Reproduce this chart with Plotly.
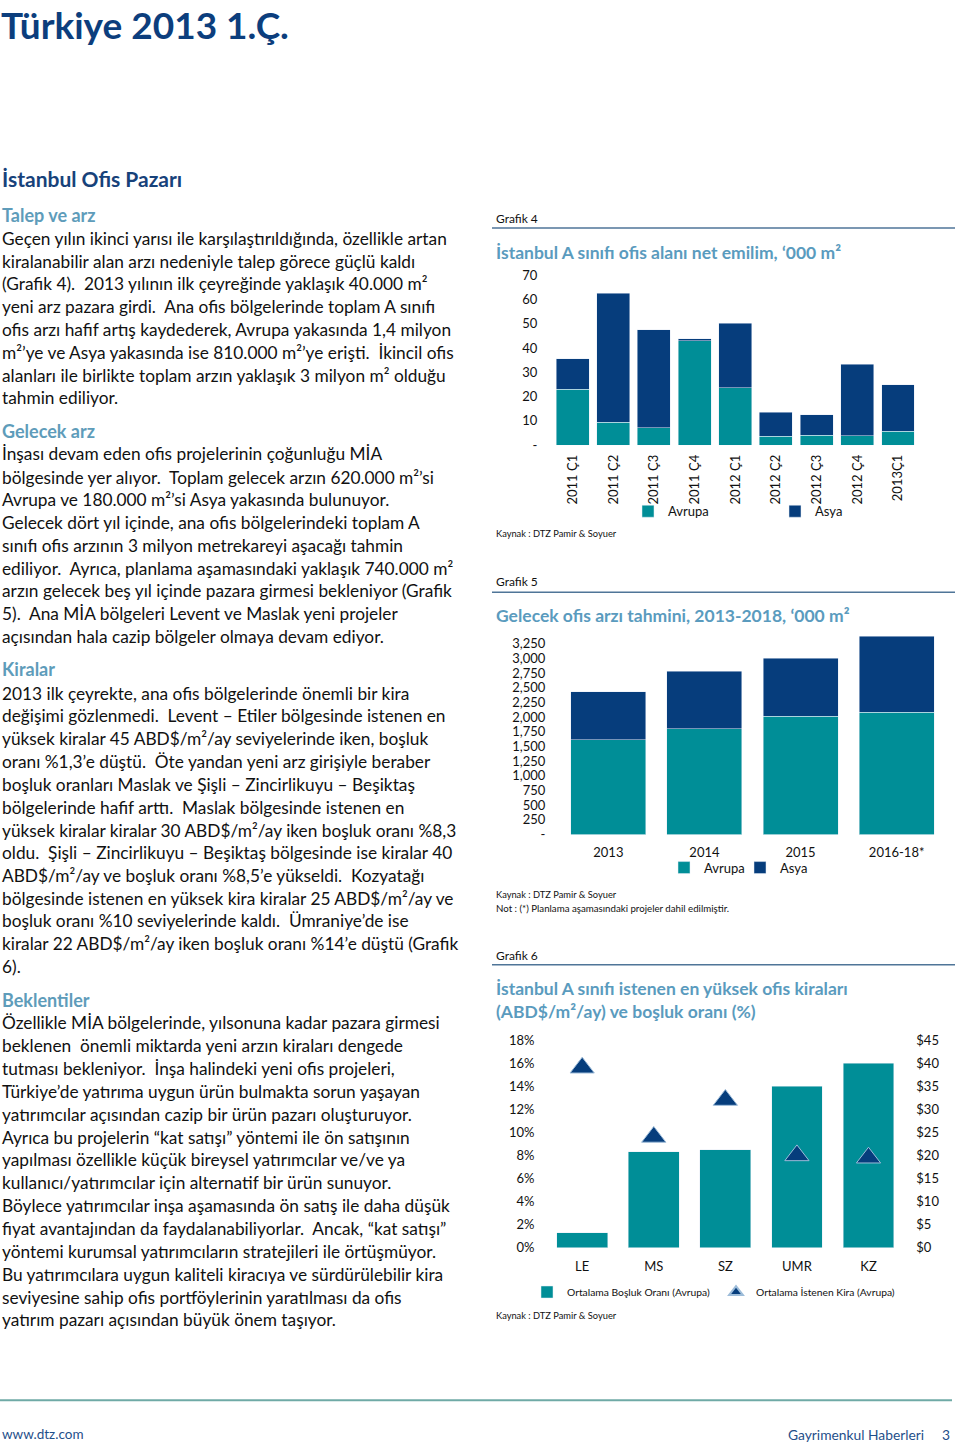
import plotly.graph_objects as go

W, H = 960, 1447
# vertical calibration of the rendered page (measured from earlier renders)
V_OFF, V_SCALE = 8.2, 0.988


def X(px):
    return px / W


def Y(py):
    return 1 - ((py - V_OFF) / V_SCALE) / H


FONT = "Lato"
TEAL = "#008E97"
NAVY = "#063D7C"
TITLE_BLUE = "#5A9BBE"

# ---------------- data ----------------
g4_cats = ["2011 Ç1", "2011 Ç2", "2011 Ç3", "2011 Ç4", "2012 Ç1", "2012 Ç2", "2012 Ç3", "2012 Ç4", "2013Ç1"]
g4_avrupa = [23.0, 9.5, 7.1, 43.0, 23.7, 3.6, 4.1, 3.8, 5.8]
g4_asya = [12.6, 53.1, 40.3, 0.8, 26.4, 10.0, 8.5, 29.6, 19.1]
g4_tickvals = [0, 10, 20, 30, 40, 50, 60, 70]
g4_ticktext = ["-", "10", "20", "30", "40", "50", "60", "70"]

g5_cats = ["2013", "2014", "2015", "2016-18*"]
g5_avrupa = [1615, 1805, 2015, 2085]
g5_asya = [815, 980, 985, 1295]
g5_tickvals = [0, 250, 500, 750, 1000, 1250, 1500, 1750, 2000, 2250, 2500, 2750, 3000, 3250]
g5_ticktext = ["-", "250", "500", "750", "1,000", "1,250", "1,500", "1,750", "2,000",
               "2,250", "2,500", "2,750", "3,000", "3,250"]

g6_cats = ["LE", "MS", "SZ", "UMR", "KZ"]
g6_bosluk = [1.3, 8.3, 8.5, 14.0, 16.0]
g6_kira = [39.0, 24.0, 32.0, 20.0, 19.5]
g6_left_vals = [0, 2, 4, 6, 8, 10, 12, 14, 16, 18]
g6_left_text = ["0%", "2%", "4%", "6%", "8%", "10%", "12%", "14%", "16%", "18%"]
g6_right_vals = [0, 5, 10, 15, 20, 25, 30, 35, 40, 45]
g6_right_text = ["$0", "$5", "$10", "$15", "$20", "$25", "$30", "$35", "$40", "$45"]

# ---------------- text ----------------
body_lines = [
    (238, "Geçen yılın ikinci yarısı ile karşılaştırıldığında, özellikle artan"),
    (261, "kiralanabilir alan arzı nedeniyle talep görece güçlü kaldı"),
    (283, "(Grafik 4).  2013 yılının ilk çeyreğinde yaklaşık 40.000 m²"),
    (306, "yeni arz pazara girdi.  Ana ofis bölgelerinde toplam A sınıfı"),
    (329, "ofis arzı hafif artış kaydederek, Avrupa yakasında 1,4 milyon"),
    (352, "m²’ye ve Asya yakasında ise 810.000 m²’ye erişti.  İkincil ofis"),
    (375, "alanları ile birlikte toplam arzın yaklaşık 3 milyon m² olduğu"),
    (397, "tahmin ediliyor."),
    (453, "İnşası devam eden ofis projelerinin çoğunluğu MİA"),
    (477, "bölgesinde yer alıyor.  Toplam gelecek arzın 620.000 m²’si"),
    (499, "Avrupa ve 180.000 m²’si Asya yakasında bulunuyor."),
    (522, "Gelecek dört yıl içinde, ana ofis bölgelerindeki toplam A"),
    (545, "sınıfı ofis arzının 3 milyon metrekareyi aşacağı tahmin"),
    (568, "ediliyor.  Ayrıca, planlama aşamasındaki yaklaşık 740.000 m²"),
    (590, "arzın gelecek beş yıl içinde pazara girmesi bekleniyor (Grafik"),
    (613, "5).  Ana MİA bölgeleri Levent ve Maslak yeni projeler"),
    (636, "açısından hala cazip bölgeler olmaya devam ediyor."),
    (693, "2013 ilk çeyrekte, ana ofis bölgelerinde önemli bir kira"),
    (715, "değişimi gözlenmedi.  Levent – Etiler bölgesinde istenen en"),
    (738, "yüksek kiralar 45 ABD$/m²/ay seviyelerinde iken, boşluk"),
    (761, "oranı %1,3’e düştü.  Öte yandan yeni arz girişiyle beraber"),
    (784, "boşluk oranları Maslak ve Şişli – Zincirlikuyu – Beşiktaş"),
    (807, "bölgelerinde hafif arttı.  Maslak bölgesinde istenen en"),
    (830, "yüksek kiralar kiralar 30 ABD$/m²/ay iken boşluk oranı %8,3"),
    (852, "oldu.  Şişli – Zincirlikuyu – Beşiktaş bölgesinde ise kiralar 40"),
    (875, "ABD$/m²/ay ve boşluk oranı %8,5’e yükseldi.  Kozyatağı"),
    (898, "bölgesinde istenen en yüksek kira kiralar 25 ABD$/m²/ay ve"),
    (920, "boşluk oranı %10 seviyelerinde kaldı.  Ümraniye’de ise"),
    (943, "kiralar 22 ABD$/m²/ay iken boşluk oranı %14’e düştü (Grafik"),
    (966, "6)."),
    (1022, "Özellikle MİA bölgelerinde, yılsonuna kadar pazara girmesi"),
    (1045, "beklenen  önemli miktarda yeni arzın kiraları dengede"),
    (1068, "tutması bekleniyor.  İnşa halindeki yeni ofis projeleri,"),
    (1091, "Türkiye’de yatırıma uygun ürün bulmakta sorun yaşayan"),
    (1114, "yatırımcılar açısından cazip bir ürün pazarı oluşturuyor."),
    (1137, "Ayrıca bu projelerin “kat satışı” yöntemi ile ön satışının"),
    (1159, "yapılması özellikle küçük bireysel yatırımcılar ve/ve ya"),
    (1182, "kullanıcı/yatırımcılar için alternatif bir ürün sunuyor."),
    (1205, "Böylece yatırımcılar inşa aşamasında ön satış ile daha düşük"),
    (1228, "fiyat avantajından da faydalanabiliyorlar.  Ancak, “kat satışı”"),
    (1251, "yöntemi kurumsal yatırımcıların stratejileri ile örtüşmüyor."),
    (1273, "Bu yatırımcılara uygun kaliteli kiracıya ve sürdürülebilir kira"),
    (1296, "seviyesine sahip ofis portföylerinin yaratılması da ofis"),
    (1318, "yatırım pazarı açısından büyük önem taşıyor."),
]
sub_heads = [(215, "Talep ve arz"), (431, "Gelecek arz"), (669, "Kiralar"), (999, "Beklentiler")]

chart_captions = [(218, "Grafik 4"), (581, "Grafik 5"), (955, "Grafik 6")]
caption_rules = [228, 592, 964]
chart_titles = [
    (252, "İstanbul A sınıfı ofis alanı net emilim, ‘000 m²"),
    (615, "Gelecek ofis arzı tahmini, 2013-2018, ‘000 m²"),
    (988, "İstanbul A sınıfı istenen en yüksek ofis kiraları"),
    (1011, "(ABD$/m²/ay) ve boşluk oranı (%)"),
]
source_notes = [
    (533, "Kaynak : DTZ Pamir & Soyuer"),
    (894, "Kaynak : DTZ Pamir & Soyuer"),
    (907, "Not : (*) Planlama aşamasındaki projeler dahil edilmiştir."),
    (1314, "Kaynak : DTZ Pamir & Soyuer"),
]

# ---------------- figure ----------------
fig = go.Figure()

fig.add_trace(go.Bar(x=g4_cats, y=g4_avrupa, name="Avrupa", marker_color=TEAL, width=0.81,
                     xaxis="x", yaxis="y", legend="legend"))
fig.add_trace(go.Bar(x=g4_cats, y=g4_asya, name="Asya", marker_color=NAVY, width=0.81,
                     xaxis="x", yaxis="y", legend="legend2"))
fig.add_trace(go.Bar(x=g5_cats, y=g5_avrupa, name="Avrupa", marker_color=TEAL, width=0.78,
                     xaxis="x2", yaxis="y2", legend="legend3"))
fig.add_trace(go.Bar(x=g5_cats, y=g5_asya, name="Asya", marker_color=NAVY, width=0.78,
                     xaxis="x2", yaxis="y2", legend="legend4"))
fig.add_trace(go.Bar(x=g6_cats, y=g6_bosluk, name="Ortalama Boşluk Oranı (Avrupa)", marker_color=TEAL,
                     width=0.71, xaxis="x3", yaxis="y3", legend="legend5"))
fig.add_trace(go.Scatter(x=g6_cats, y=g6_kira, name="Ortalama İstenen Kira (Avrupa)", mode="markers",
                         marker=dict(symbol="triangle-up", size=21, color=NAVY,
                                     line=dict(color="#9DBCD9", width=1)),
                         xaxis="x3", yaxis="y4", legend="legend6"))

tickfont = dict(family=FONT, size=13, color="#111111")
common_x = dict(showgrid=False, zeroline=False, showline=False, ticks="", tickfont=tickfont,
                fixedrange=True)
common_y = dict(showgrid=False, zeroline=False, showline=False, ticks="", tickfont=tickfont,
                fixedrange=True)

layout = dict(
    width=W, height=H, autosize=False,
    margin=dict(l=0, r=0, t=0, b=0),
    paper_bgcolor="white", plot_bgcolor="white",
    barmode="stack",
    font=dict(family=FONT, color="#111111"),
    xaxis=dict(common_x, domain=[X(552.3), X(918.3)], range=[-0.5, 8.5], tickangle=-90,
               anchor="y", ticklabelstandoff=6),
    yaxis=dict(common_y, domain=[Y(445), Y(275)], range=[0, 70], tickvals=g4_tickvals,
               ticktext=g4_ticktext, anchor="x", ticklabelstandoff=14),
    xaxis2=dict(common_x, domain=[X(560.3), X(944.7)], range=[-0.5, 3.5], anchor="y2",
                ticklabelstandoff=8),
    yaxis2=dict(common_y, domain=[Y(834), Y(634.5)], range=[0, 3400], tickvals=g5_tickvals,
                ticktext=g5_ticktext, anchor="x2", ticklabelstandoff=14),
    xaxis3=dict(common_x, domain=[X(546.4), X(904.3)], range=[-0.5, 4.5], anchor="y3",
                ticklabelstandoff=9),
    yaxis3=dict(common_y, domain=[Y(1246.7), Y(1039.3)], range=[0, 18], tickvals=g6_left_vals,
                ticktext=g6_left_text, anchor="x3", ticklabelstandoff=11),
    yaxis4=dict(common_y, domain=[Y(1246.7), Y(1039.3)], range=[0, 45], tickvals=g6_right_vals,
                ticktext=g6_right_text, anchor="x3", overlaying="y3", side="right",
                ticklabelstandoff=11),
    showlegend=True,
)


def leg(xpx, ypx, size):
    return dict(x=X(xpx), y=Y(ypx), xanchor="left", yanchor="middle", orientation="h",
                bgcolor="rgba(0,0,0,0)", borderwidth=0, itemwidth=30,
                font=dict(family=FONT, size=size, color="#111111"), itemclick=False,
                itemdoubleclick=False)


layout["legend"] = leg(628, 511, 13)
layout["legend2"] = leg(775, 511, 13)
layout["legend3"] = leg(664, 867, 13)
layout["legend4"] = leg(740, 867, 13)
layout["legend5"] = leg(527, 1291, 10.3)
layout["legend6"] = dict(leg(716, 1291, 10.3), itemsizing="constant")

fig.update_layout(**layout)

anns = []


def txt(xpx, ypx, text, size, color="#111111", bold=False, xanchor="left", pad=1):
    if bold:
        text = "<b>" + text + "</b>"
    anns.append(dict(x=X(xpx), y=Y(ypx), xref="paper", yref="paper", text=text, showarrow=False,
                     xanchor=xanchor, yanchor="middle", align="left", borderpad=pad,
                     font=dict(family=FONT, size=size, color=color)))


txt(0, 24.5, "Türkiye 2013 1.Ç.", 37, color="#0C3E7D", bold=True, pad=0)
txt(0, 179, "İstanbul Ofis Pazarı", 21, color="#17427A", bold=True)
for y, t in sub_heads:
    txt(0, y, t, 18, color="#5E9CBA", bold=True)
for y, t in body_lines:
    txt(0, y, t, 17.3)
for y, t in chart_captions:
    txt(494, y, t, 12)
for y, t in chart_titles:
    txt(494, y, t, 17.5, color=TITLE_BLUE, bold=True)
for y, t in source_notes[:2] + source_notes[3:]:
    txt(494, y, t, 9.3)
txt(494, source_notes[2][0], source_notes[2][1], 9.7)
txt(0, 1433, "www.dtz.com", 13.5, color="#1F4F8A")
txt(926, 1433, "Gayrimenkul Haberleri", 13.8, color="#1F4F8A", xanchor="right")
txt(952, 1433, "3", 13.8, color="#1F4F8A", xanchor="right")

shapes = []
for y in caption_rules:
    shapes.append(dict(type="line", xref="paper", yref="paper", x0=X(492), x1=X(955),
                       y0=Y(y), y1=Y(y), line=dict(color="#4F7598", width=1.5)))
shapes.append(dict(type="line", xref="paper", yref="paper", x0=X(0), x1=X(952),
                   y0=Y(1399), y1=Y(1399), line=dict(color="#6FAAA6", width=2)))

fig.update_layout(annotations=anns, shapes=shapes)

fig.write_html(
    "out.html",
    config={"displayModeBar": False},
    post_script="document.body.style.margin='0px';"
                "document.documentElement.style.overflow='hidden';",
)
